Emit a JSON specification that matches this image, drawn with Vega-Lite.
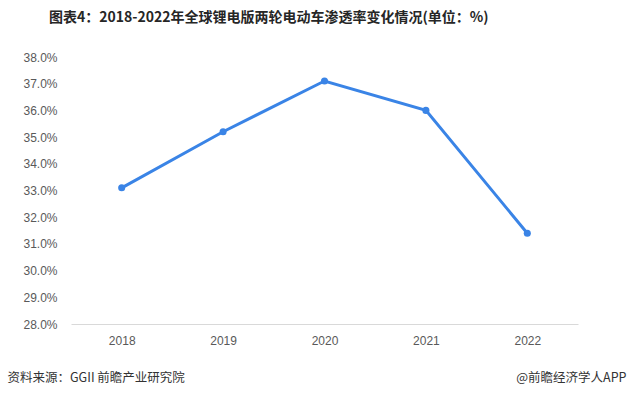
{
  "$schema": "https://vega.github.io/schema/vega-lite/v6.json",
  "width": 507,
  "height": 267,
  "autosize": {"type": "none"},
  "padding": {"left": 71, "top": 57, "right": 49, "bottom": 73},
  "background": "white",
  "title": {
    "text": "图表4：2018-2022年全球锂电版两轮电动车渗透率变化情况(单位：%)",
    "anchor": "start",
    "frame": "group",
    "dx": -22,
    "offset": 26,
    "font": "Noto Sans CJK SC",
    "fontSize": 14,
    "fontWeight": "bold",
    "color": "#262626"
  },
  "config": {
    "view": {"stroke": null},
    "font": "Noto Sans CJK SC"
  },
  "data": {
    "values": [
      {"year": "2018", "rate": 33.1},
      {"year": "2019", "rate": 35.2},
      {"year": "2020", "rate": 37.1},
      {"year": "2021", "rate": 36.0},
      {"year": "2022", "rate": 31.4}
    ]
  },
  "encoding": {
    "x": {
      "field": "year",
      "type": "ordinal",
      "scale": {"type": "point", "padding": 0.5},
      "axis": {
        "title": "资料来源：GGII 前瞻产业研究院",
        "titleFont": "Noto Sans CJK SC",
        "titleFontSize": 12.5,
        "titleFontWeight": "normal",
        "titleColor": "#333333",
        "titleAnchor": "start",
        "titleAlign": "left",
        "titleBaseline": "middle",
        "titleX": -64,
        "titleY": 53,
        "labelAngle": 0,
        "labelFont": "Liberation Sans",
        "labelFontSize": 12,
        "labelColor": "#595959",
        "labelPadding": 11,
        "ticks": false,
        "tickSize": 0,
        "domainColor": "#d9d9d9",
        "domainWidth": 1,
        "grid": false
      }
    },
    "y": {
      "field": "rate",
      "type": "quantitative",
      "scale": {"domain": [28, 38], "nice": false, "zero": false},
      "axis": {
        "values": [28, 29, 30, 31, 32, 33, 34, 35, 36, 37, 38],
        "labelExpr": "format(datum.value, '.1f') + '%'",
        "labelFont": "Liberation Sans",
        "labelFontSize": 12,
        "labelColor": "#595959",
        "labelPadding": 14,
        "ticks": false,
        "tickSize": 0,
        "domain": false,
        "grid": false,
        "title": "@前瞻经济学人APP",
        "titleFont": "Noto Sans CJK SC",
        "titleFontSize": 12.5,
        "titleFontWeight": "normal",
        "titleColor": "#333333",
        "titleAngle": 0,
        "titleAlign": "right",
        "titleBaseline": "middle",
        "titleX": 555,
        "titleY": 320
      }
    }
  },
  "layer": [
    {"mark": {"type": "line", "color": "#3a84e6", "strokeWidth": 3}},
    {"mark": {"type": "point", "filled": true, "color": "#3a84e6", "size": 50, "opacity": 1}}
  ]
}
